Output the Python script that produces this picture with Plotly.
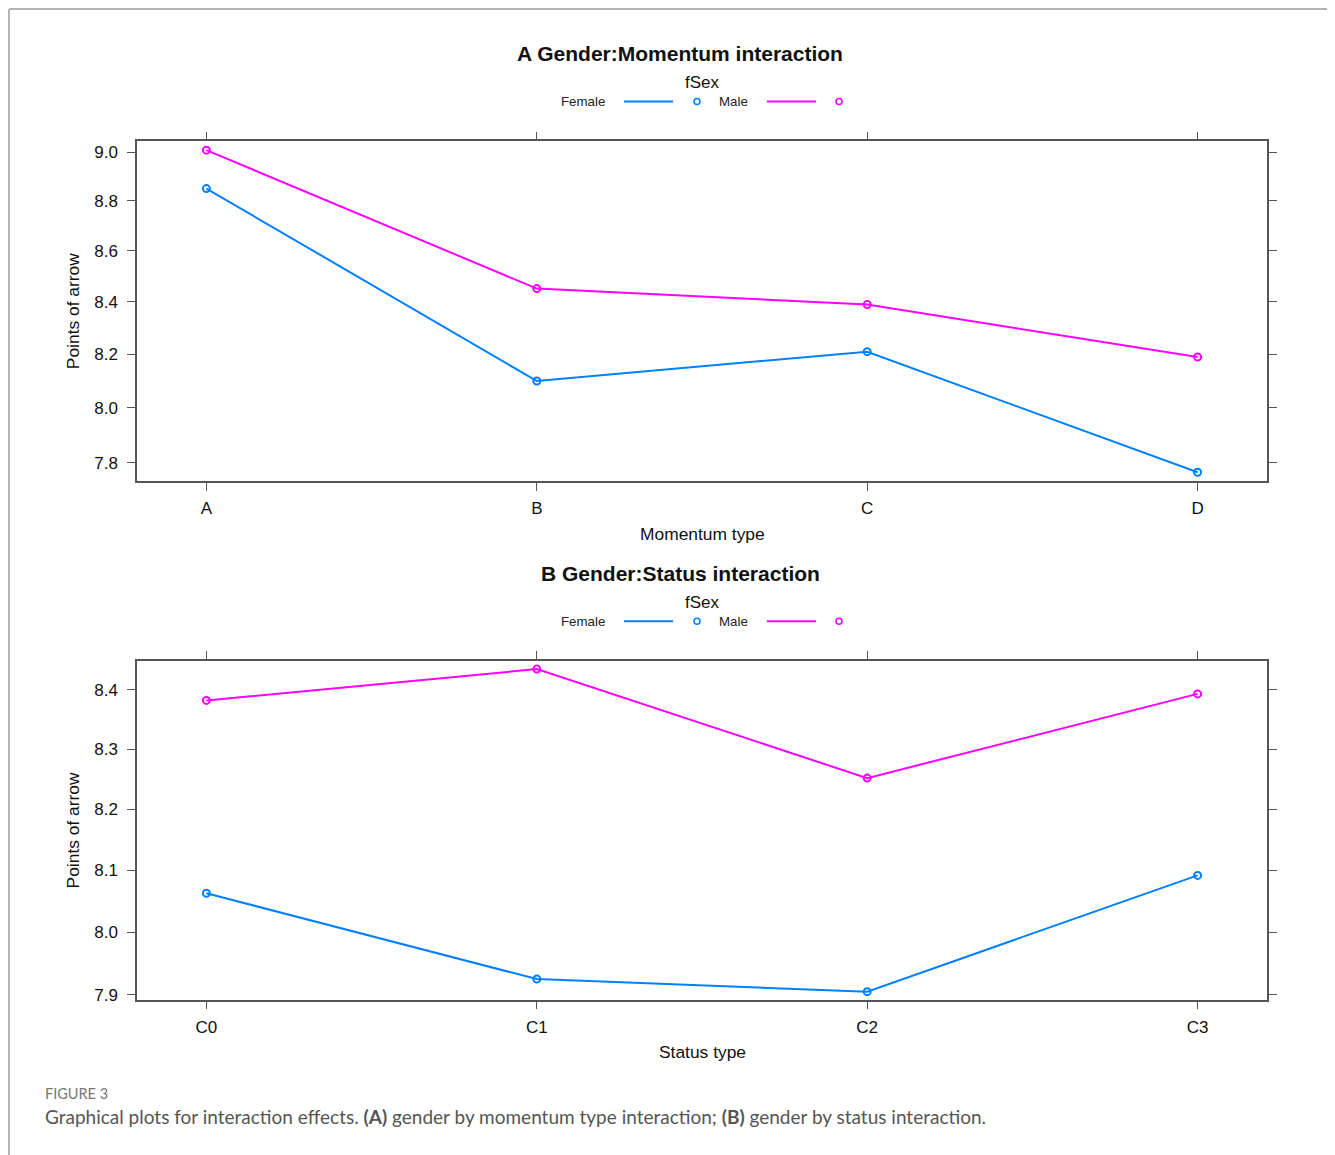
import plotly.graph_objects as go

# The page body adds an 8px offset, so the figure is sized to the remaining area
OFF = 8
W, H = 1335 - OFF, 1155 - OFF

# ---- data ----
momentum_types = ["A", "B", "C", "D"]
momentum_female = [8.85, 8.10, 8.21, 7.767]
momentum_male = [9.008, 8.452, 8.39, 8.19]

status_types = ["C0", "C1", "C2", "C3"]
status_female = [8.063, 7.925, 7.905, 8.092]
status_male = [8.382, 8.435, 8.252, 8.393]

ytick_a = [7.8, 8.0, 8.2, 8.4, 8.6, 8.8, 9.0]
ytick_b = [7.9, 8.0, 8.1, 8.2, 8.3, 8.4]

series_names = ["Female", "Male"]
colors = ["#0080ff", "#ff00ff"]

FONT = "Liberation Sans, Arial, sans-serif"


def px_x(x):
    return (x - OFF) / W


def px_y(y):
    return 1 - (y - OFF) / H


fig = go.Figure()

panels = [
    dict(cats=momentum_types, f=momentum_female, m=momentum_male, xa="x", ya="y",
         top=142, bot=483, yr=[0.88851, 0.95637], ticks=ytick_a,
         title="A Gender:Momentum interaction", xtitle="Momentum type",
         title_y=54),
    dict(cats=status_types, f=status_female, m=status_male, xa="x2", ya="y2",
         top=664, bot=1004, yr=[0.89720, 0.92678], ticks=ytick_b,
         title="B Gender:Status interaction", xtitle="Status type",
         title_y=576),
]

annotations = []
shapes = []

for i, p in enumerate(panels):
    for name, vals, col in zip(series_names, [p["f"], p["m"]], colors):
        fig.add_trace(go.Scatter(
            x=list(range(len(p["cats"]))), y=vals, mode="lines+markers",
            name=name, showlegend=False,
            line=dict(color=col, width=2),
            marker=dict(symbol="circle-open", size=7, color=col, line=dict(width=2, color=col)),
            xaxis=p["xa"], yaxis=p["ya"],
        ))
    ax_common = dict(showline=True, linecolor="#555", linewidth=1.5, mirror="allticks",
                     ticks="outside", ticklen=8, tickwidth=1.3, tickcolor="#555",
                     showgrid=False, zeroline=False,
                     tickfont=dict(family=FONT, size=17, color="#111"))
    xname = "xaxis" if i == 0 else "xaxis2"
    yname = "yaxis" if i == 0 else "yaxis2"
    fig.update_layout(**{
        xname: dict(ax_common, domain=[px_x(137), px_x(1267)], range=[-0.21, 3.21],
                    tickvals=list(range(len(p["cats"]))), ticktext=p["cats"],
                    anchor=p["ya"], ticklabelstandoff=3),
        yname: dict(ax_common, domain=[px_y(p["bot"]), px_y(p["top"])], type="log",
                    range=p["yr"], tickvals=p["ticks"],
                    ticktext=[f"{v:.1f}" for v in p["ticks"]],
                    anchor=p["xa"], ticklabelstandoff=6),
    })
    ty = p["title_y"]
    annotations += [
        dict(text=f"<b>{p['title']}</b>", x=px_x(680), y=px_y(ty), xref="paper", yref="paper",
             showarrow=False, font=dict(family=FONT, size=21, color="#111"), xanchor="center", yanchor="middle"),
        dict(text="fSex", x=px_x(702), y=px_y(ty + 29), xref="paper", yref="paper",
             showarrow=False, font=dict(family=FONT, size=17, color="#111"), xanchor="center", yanchor="middle"),
        dict(text="Female", x=px_x(583), y=px_y(ty + 48), xref="paper", yref="paper",
             showarrow=False, font=dict(family=FONT, size=13.3, color="#222"), xanchor="center", yanchor="middle"),
        dict(text="Male", x=px_x(733), y=px_y(ty + 48), xref="paper", yref="paper",
             showarrow=False, font=dict(family=FONT, size=13.3, color="#222"), xanchor="center", yanchor="middle"),
        dict(text=p["xtitle"], x=px_x(702), y=px_y(p["bot"] + 53), xref="paper", yref="paper",
             showarrow=False, font=dict(family=FONT, size=17.4, color="#111"), xanchor="center", yanchor="middle"),
        dict(text="Points of arrow", x=px_x(73), y=px_y((p["top"] + p["bot"]) / 2), xref="paper", yref="paper",
             showarrow=False, textangle=-90, font=dict(family=FONT, size=17.4, color="#111"),
             xanchor="center", yanchor="middle"),
    ]
    ly = ty + 48
    for (x0, x1, cx), col in zip([(624, 673, 697), (767, 816, 839)], colors):
        shapes.append(dict(type="line", xref="paper", yref="paper", x0=px_x(x0), x1=px_x(x1),
                           y0=px_y(ly), y1=px_y(ly), line=dict(color=col, width=2)))
        shapes.append(dict(type="circle", xref="paper", yref="paper", x0=px_x(cx - 3), x1=px_x(cx + 3),
                           y0=px_y(ly - 3), y1=px_y(ly + 3), line=dict(color=col, width=1.5)))

# caption
annotations += [
    dict(text="FIGURE 3", x=px_x(43), y=px_y(1098), xref="paper", yref="paper", showarrow=False,
         xanchor="left", yanchor="middle", font=dict(family="Lato, sans-serif", size=14.5, color="#777")),
    dict(text="Graphical plots for interaction effects. <b>(A)</b> gender by momentum type interaction; "
              "<b>(B)</b> gender by status interaction.",
         x=px_x(43), y=px_y(1121), xref="paper", yref="paper", showarrow=False,
         xanchor="left", yanchor="middle", font=dict(family="Lato, sans-serif", size=19, color="#555")),
]

# card border (top, left, right)
border = dict(color="#b4b4b4", width=2)
shapes += [
    dict(type="line", xref="paper", yref="paper", x0=px_x(9), x1=px_x(1333), y0=px_y(9), y1=px_y(9), line=border),
    dict(type="line", xref="paper", yref="paper", x0=px_x(9), x1=px_x(9), y0=px_y(9), y1=px_y(1170), line=border),
    dict(type="line", xref="paper", yref="paper", x0=px_x(1333), x1=px_x(1333), y0=px_y(9), y1=px_y(1170), line=border),
]

fig.update_layout(
    width=W, height=H,
    margin=dict(l=0, r=0, t=0, b=0),
    paper_bgcolor="white", plot_bgcolor="white",
    annotations=annotations, shapes=shapes,
    showlegend=False,
)

fig.write_html("out.html")
